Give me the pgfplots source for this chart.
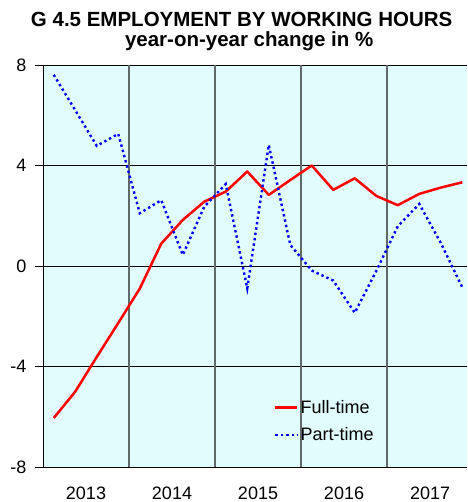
\documentclass[border=0pt]{standalone}
\usepackage{pgfplots}
\pgfplotsset{compat=1.18}
\usepackage{pgfplotstable}
\usepackage{fontspec}
\setmainfont{Liberation Sans}

\definecolor{panel}{RGB}{224,252,252}
\definecolor{vgrid}{RGB}{95,105,105}

% quarterly year-on-year change in %, quarter centres at 0.5, 1.5, ...
\pgfplotstableread{
x     full   part
0.5  -6.05   7.61
1.5  -5.00   6.20
2.5  -3.62   4.78
3.5  -2.27   5.26
4.5  -0.90   2.10
5.5   0.89   2.62
6.5   1.83   0.44
7.5   2.56   2.36
8.5   2.96   3.26
9.5   3.76  -0.89
10.5  2.83   4.82
11.5  3.42   0.84
12.5  4.00  -0.18
13.5  3.03  -0.58
14.5  3.49  -1.86
15.5  2.79  -0.20
16.5  2.42   1.58
17.5  2.87   2.47
18.5  3.12   0.92
19.5  3.33  -0.85
}\employment

\begin{document}
\begin{tikzpicture}
\begin{axis}[
  at={(0,0)}, anchor=south west,
  scale only axis, width=424pt, height=402pt,
  xmin=0, xmax=19.72, ymin=-8, ymax=8,
  axis x line*=bottom, axis y line*=left,
  axis line style={black, line width=0.9pt},
  axis background/.style={fill=panel},
  ytick={-8,-4,0,4,8},
  yticklabels={-8,-4,0,4,8},
  ymajorgrids,
  major grid style={black, line width=0.8pt},
  xtick={2,6,10,14,18},
  xticklabels={2013,2014,2015,2016,2017},
  xtick style={draw=none},
  extra x ticks={4,8,12,16},
  extra x tick labels={},
  extra x tick style={grid=major, major grid style={vgrid, line width=1.2pt}, tick style={draw=none}},
  tick align=outside, major tick length=8pt,
  ytick style={black, line width=0.9pt},
  tick label style={font=\fontsize{18}{20}\selectfont},
  yticklabel style={xshift=-5pt},
  xticklabel style={yshift=-8pt},
  /pgf/number format/assume math mode=true,
  legend style={draw=none, fill=none, inner sep=0pt, at={(axis cs:10.74,-6.18)}, anchor=west,
    font=\fontsize{18}{20}\selectfont, row sep=9pt},
  legend cell align=left,
  legend image code/.code={\draw[#1] (0pt,0pt) -- (22pt,0pt);},
]
\addplot[red, line width=2.5pt, line join=round] table[x=x, y=full] {\employment};
\addlegendentry{Full-time}
\addplot[blue, line width=2.4pt, dash pattern=on 2.4pt off 3pt] table[x=x, y=part] {\employment};
\addlegendentry{Part-time}
\end{axis}
\node[anchor=base, font=\fontsize{20.5}{22}\selectfont\bfseries] at (198.7pt,440pt) {G 4.5 EMPLOYMENT BY WORKING HOURS};
\node[anchor=base, font=\fontsize{20.5}{22}\selectfont\bfseries] at (206.2pt,420pt) {year-on-year change in \%};
\pgfresetboundingbox
\useasboundingbox (-43pt,-35pt) rectangle (424pt,467pt);
\end{tikzpicture}
\end{document}
